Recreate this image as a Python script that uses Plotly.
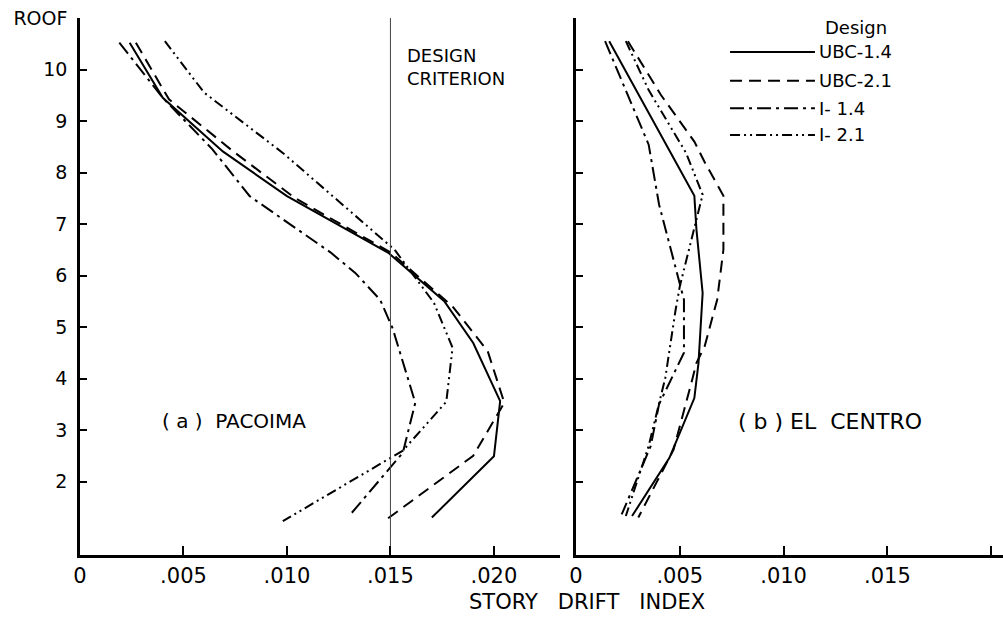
import plotly.graph_objects as go

# Story drift index along building height, two ground motions, four designs
designs = ["UBC-1.4", "UBC-2.1", "I- 1.4", "I- 2.1"]
dash_styles = ["solid", "12px,7px", "14px,5px,3px,5px", "10px,4px,2px,4px,2px,4px"]

# (a) Pacoima
pac_ubc14_lvl = [10.52, 9.45, 8.41, 7.54, 6.44, 5.50, 4.69, 3.56, 2.49, 1.30]
pac_ubc14 = [0.0024, 0.0040, 0.0069, 0.0100, 0.0149, 0.0176, 0.0190, 0.0203, 0.0200, 0.0170]

pac_ubc21_lvl = [10.52, 9.42, 8.41, 7.50, 6.45, 5.40, 4.53, 3.53, 2.50, 1.26]
pac_ubc21 = [0.0027, 0.0043, 0.0074, 0.0104, 0.0150, 0.0180, 0.0197, 0.0205, 0.0190, 0.0148]

pac_i14_lvl = [10.52, 9.45, 8.45, 7.54, 6.45, 6.05, 5.53, 4.98, 3.53, 2.56, 1.33]
pac_i14 = [0.0019, 0.0040, 0.0064, 0.0082, 0.0121, 0.0133, 0.0145, 0.0151, 0.0162, 0.0156, 0.0130]

pac_i21_lvl = [10.55, 9.55, 8.38, 6.50, 5.47, 4.60, 3.55, 2.60, 1.23]
pac_i21 = [0.0041, 0.0060, 0.0098, 0.0152, 0.0171, 0.0180, 0.0177, 0.0156, 0.0098]

# (b) El Centro
elc_ubc14_lvl = [10.55, 7.55, 6.90, 5.66, 4.30, 3.62, 2.46, 1.33]
elc_ubc14 = [0.0016, 0.0057, 0.0058, 0.0061, 0.0059, 0.0057, 0.0045, 0.0027]

elc_ubc21_lvl = [10.55, 9.50, 8.60, 8.20, 7.55, 6.50, 5.53, 4.63, 4.30, 3.98, 2.62, 1.84, 1.30]
elc_ubc21 = [0.0025, 0.0041, 0.0057, 0.0062, 0.0071, 0.0071, 0.0068, 0.0062, 0.0058, 0.0056, 0.0047, 0.0037, 0.0030]

elc_i14_lvl = [10.55, 8.54, 7.38, 5.79, 5.53, 4.50, 3.50, 2.69, 1.36]
elc_i14 = [0.0014, 0.0035, 0.0040, 0.0050, 0.0052, 0.0052, 0.0040, 0.0036, 0.0022]

elc_i21_lvl = [10.55, 9.60, 8.38, 7.57, 5.79, 5.34, 4.01, 3.53, 2.69, 1.33]
elc_i21 = [0.0024, 0.0035, 0.0053, 0.0061, 0.0050, 0.0048, 0.0043, 0.0040, 0.0035, 0.0024]

design_limit = 0.015

level_ticks = [2, 3, 4, 5, 6, 7, 8, 9, 10, 11]
level_labels = ["2", "3", "4", "5", "6", "7", "8", "9", "10", "ROOF"]
drift_ticks = [0, 0.005, 0.010, 0.015, 0.020]
drift_labels_a = ["0", ".005", ".010", ".015", ".020"]
drift_labels_b = ["0", ".005", ".010", ".015", ""]

FONT = "DejaVu Sans"
Y_RANGE = [0.573, 11.0]

fig = go.Figure()

pacoima = [(pac_ubc14, pac_ubc14_lvl), (pac_ubc21, pac_ubc21_lvl),
           (pac_i14, pac_i14_lvl), (pac_i21, pac_i21_lvl)]
elcentro = [(elc_ubc14, elc_ubc14_lvl), (elc_ubc21, elc_ubc21_lvl),
            (elc_i14, elc_i14_lvl), (elc_i21, elc_i21_lvl)]

for name, dash, (xv, yv) in zip(designs, dash_styles, pacoima):
    fig.add_trace(go.Scatter(x=xv, y=yv, mode="lines", name=name,
                             line=dict(color="black", width=2, dash=dash),
                             xaxis="x", yaxis="y", showlegend=False))
for name, dash, (xv, yv) in zip(designs, dash_styles, elcentro):
    fig.add_trace(go.Scatter(x=xv, y=yv, mode="lines", name=name,
                             line=dict(color="black", width=2, dash=dash),
                             xaxis="x2", yaxis="y2", showlegend=False))

# design criterion line
fig.add_trace(go.Scatter(x=[design_limit, design_limit], y=Y_RANGE, mode="lines",
                         line=dict(color="#444444", width=1), xaxis="x", yaxis="y",
                         showlegend=False, hoverinfo="skip"))

axis_common = dict(showline=True, linecolor="black", linewidth=2.5, showgrid=False,
                   zeroline=False, ticks="inside", tickcolor="black", tickwidth=2,
                   tickfont=dict(family=FONT, size=21, color="black"))

fig.update_layout(
    width=1003, height=618,
    margin=dict(l=80, r=0, t=18, b=63),
    paper_bgcolor="white", plot_bgcolor="white",
    showlegend=False,
    xaxis=dict(domain=[0, 0.52], range=[0, 0.02319], anchor="y",
               tickvals=drift_ticks, ticktext=drift_labels_a, ticklen=9, **axis_common),
    xaxis2=dict(domain=[0.5374, 1], range=[0, 0.02057], anchor="y2",
                tickvals=drift_ticks, ticktext=drift_labels_b, ticklen=9, **axis_common),
    yaxis=dict(domain=[0, 1], range=Y_RANGE, anchor="x",
               tickvals=level_ticks, ticktext=level_labels, ticklen=7,
               ticklabelstandoff=6,
               **{**axis_common, "tickfont": dict(family=FONT, size=19, color="black")}),
    yaxis2=dict(domain=[0, 1], range=Y_RANGE, anchor="x2",
                tickvals=level_ticks, ticklen=7, showticklabels=False, **axis_common),
)

txt = dict(family=FONT, size=20, color="black")

annotations = [
    dict(x=0.0157, y=10.05, xref="x", yref="y", text="DESIGN<br>CRITERION",
         showarrow=False, xanchor="left", yanchor="middle", align="left",
         font=dict(family=FONT, size=18, color="black")),
    dict(x=0.00744, y=3.17, xref="x", yref="y", text="( a )  PACOIMA",
         showarrow=False, xanchor="center", yanchor="middle", font=txt),
    dict(x=0.01224, y=3.17, xref="x2", yref="y2", text="( b ) EL  CENTRO",
         showarrow=False, xanchor="center", yanchor="middle",
         font=dict(family=FONT, size=22, color="black")),
    dict(x=0.549, y=-0.0875, xref="paper", yref="paper", text="STORY   DRIFT   INDEX",
         showarrow=False, xanchor="center", yanchor="middle",
         font=dict(family=FONT, size=21, color="black")),
    dict(x=0.01349, y=10.81, xref="x2", yref="y2", text="Design",
         showarrow=False, xanchor="center", yanchor="middle",
         font=dict(family=FONT, size=18, color="black")),
]

# legend key drawn inside panel (b)
key_levels = [10.34, 9.78, 9.25, 8.73]
shapes = []
for name, dash, ky in zip(designs, dash_styles, key_levels):
    shapes.append(dict(type="line", xref="x2", yref="y2", x0=0.00742, x1=0.01151,
                       y0=ky, y1=ky, line=dict(color="black", width=2, dash=dash)))
    annotations.append(dict(x=0.01161, y=ky, xref="x2", yref="y2", text=name,
                            showarrow=False, xanchor="left", yanchor="middle",
                            font=dict(family=FONT, size=18, color="black")))

fig.update_layout(annotations=annotations, shapes=shapes)

fig.write_html("out.html")
